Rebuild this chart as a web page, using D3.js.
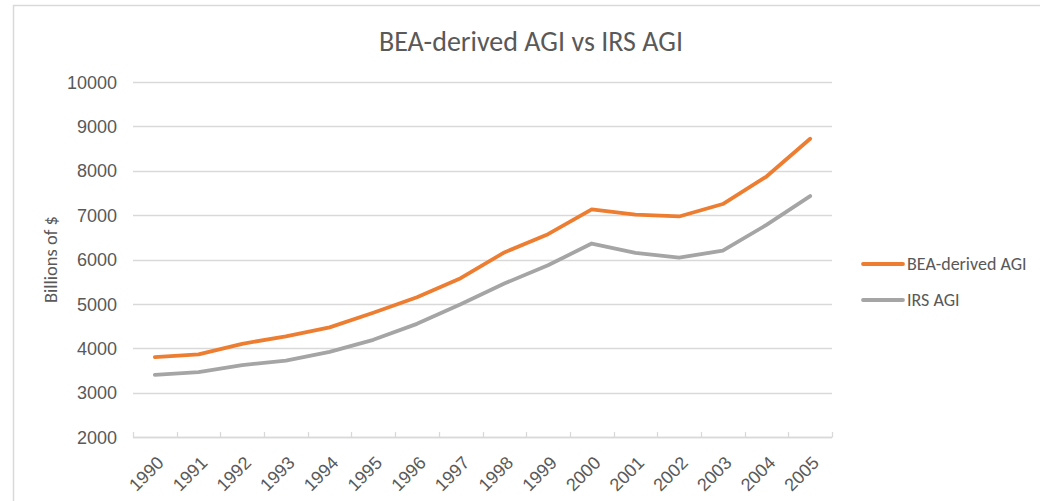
<!DOCTYPE html>
<html>
<head>
<meta charset="utf-8">
<script src="https://cdn.jsdelivr.net/npm/d3@7"></script>
<style>
  html, body { margin: 0; padding: 0; background: #fff; }
  svg { display: block; font-family: Carlito, Calibri, "Open Sans", "Noto Sans", sans-serif; }
</style>
</head>
<body>
<svg id="chart" width="1040" height="501"></svg>
<script>
const years = ["1990","1991","1992","1993","1994","1995","1996","1997","1998","1999","2000","2001","2002","2003","2004","2005"];
const beaAGI = [3800, 3860, 4100, 4270, 4470, 4800, 5150, 5580, 6160, 6570, 7130, 7010, 6970, 7250, 7870, 8720];
const irsAGI = [3400, 3460, 3620, 3720, 3920, 4190, 4550, 4990, 5460, 5870, 6360, 6150, 6040, 6200, 6780, 7430];
const yTicks = [2000, 3000, 4000, 5000, 6000, 7000, 8000, 9000, 10000];
const seriesNames = ["BEA-derived AGI", "IRS AGI"];
const seriesColors = ["#ED7D31", "#A5A5A5"];
const titleText = "BEA-derived AGI vs IRS AGI";
const yTitle = "Billions of $";

const svg = d3.select("#chart");
const textColor = "#595959";
const gridColor = "#D9D9D9";

// chart border
svg.append("rect").attr("x", 13.5).attr("y", 5.5).attr("width", 1040).attr("height", 510)
  .attr("fill", "none").attr("stroke", gridColor).attr("stroke-width", 1.5);

const plot = { left: 133, right: 832, top: 82, bottom: 437 };

const x = d3.scaleBand().domain(years).range([plot.left, plot.right]);
const y = d3.scaleLinear().domain([2000, 10000]).range([plot.bottom, plot.top]);

// gridlines
svg.append("g").selectAll("line").data(yTicks).join("line")
  .attr("x1", plot.left).attr("x2", plot.right)
  .attr("y1", d => Math.round(y(d)) + 0.5).attr("y2", d => Math.round(y(d)) + 0.5)
  .attr("stroke", gridColor).attr("stroke-width", 1.3);

// y axis labels
const yAxis = d3.axisLeft(y).tickValues(yTicks).tickSize(0).tickPadding(0).tickFormat(d3.format("d"));
const yg = svg.append("g").attr("transform", `translate(117,0)`).call(yAxis);
yg.select(".domain").remove();
yg.selectAll("text").attr("fill", textColor).style("font-size", "18px").attr("dy", "0.34em");

// x axis
const xAxis = d3.axisBottom(x).tickSize(0).tickFormat(d => d);
const xg = svg.append("g").attr("transform", `translate(0,${plot.bottom})`).call(xAxis);
xg.select(".domain").attr("stroke", gridColor).attr("stroke-width", 1.3).attr("d", `M${plot.left},0.5H${plot.right}`);
xg.selectAll("text")
  .attr("fill", textColor).style("font-size", "18px")
  .attr("text-anchor", "end")
  .attr("y", 0).attr("dy", 0)
  .attr("transform", "translate(10,27) rotate(-45)");
// band boundary ticks
const bounds = years.map(d => x(d)).concat([plot.right]);
svg.append("g").selectAll("line").data(bounds).join("line")
  .attr("x1", d => Math.round(d) + 0.5).attr("x2", d => Math.round(d) + 0.5)
  .attr("y1", plot.bottom - 5).attr("y2", plot.bottom + 0.5)
  .attr("stroke", gridColor).attr("stroke-width", 1.3);

// lines
const line = d3.line().x((d, i) => x(years[i]) + x.bandwidth() / 2).y(d => y(d));
[beaAGI, irsAGI].forEach((s, k) => {
  svg.append("path").datum(s).attr("d", line)
    .attr("fill", "none").attr("stroke", seriesColors[k]).attr("stroke-width", 3.8)
    .attr("stroke-linejoin", "round").attr("stroke-linecap", "round");
});

// title
svg.append("text").attr("x", 531).attr("y", 51).attr("text-anchor", "middle")
  .attr("fill", textColor).style("font-size", "28px").text(titleText);

// y title
svg.append("text").attr("transform", `translate(57,${(plot.top + plot.bottom) / 2}) rotate(-90)`)
  .attr("text-anchor", "middle").attr("fill", textColor).style("font-size", "18.5px").text(yTitle);

// legend
const lg = svg.append("g");
seriesNames.forEach((n, k) => {
  const ly = 264 + k * 36;
  lg.append("line").attr("x1", 863).attr("x2", 903).attr("y1", ly).attr("y2", ly)
    .attr("stroke", seriesColors[k]).attr("stroke-width", 3.8).attr("stroke-linecap", "round");
  lg.append("text").attr("x", 907).attr("y", ly).attr("dy", "0.34em")
    .attr("fill", textColor).style("font-size", "18px").text(n);
});
</script>
</body>
</html>
